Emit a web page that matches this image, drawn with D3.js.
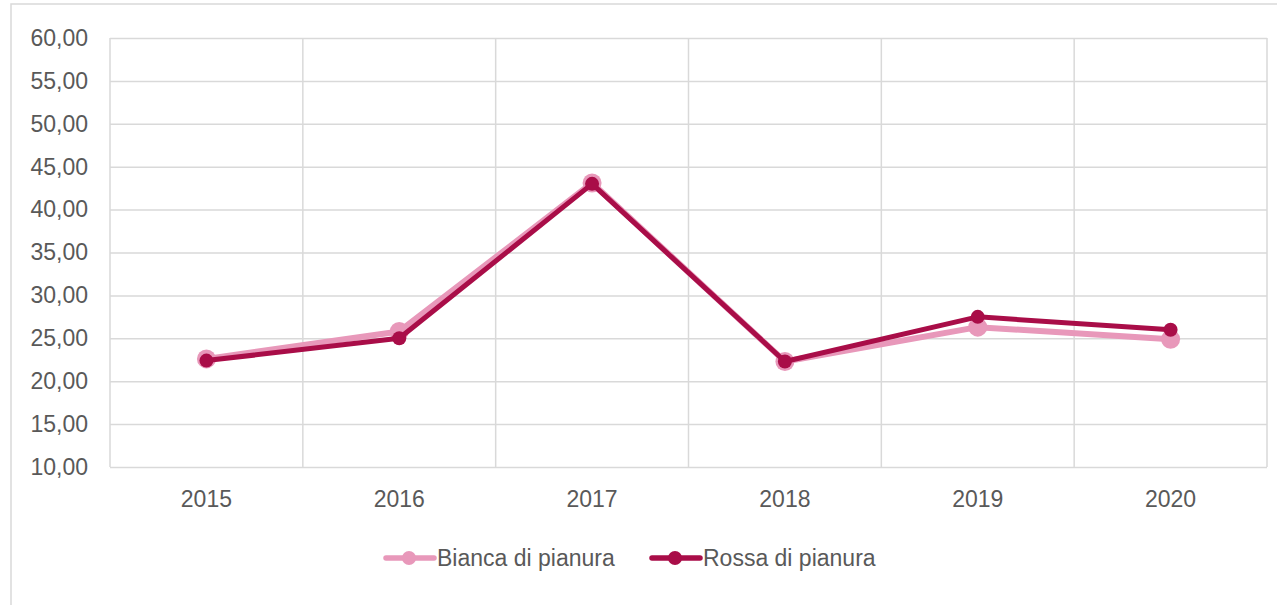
<!DOCTYPE html>
<html>
<head>
<meta charset="utf-8">
<script src="https://cdn.jsdelivr.net/npm/d3@7"></script>
<style>
  body { margin: 0; background: #fff; }
  svg { display: block; font-family: "Century Gothic", "Liberation Sans", sans-serif; }
</style>
</head>
<body>
<div id="chart"></div>
<script>
const years = ['2015', '2016', '2017', '2018', '2019', '2020'];
const bianca = [22.6, 25.8, 43.1, 22.3, 26.3, 24.9];
const rossa = [22.4, 25.0, 43.0, 22.3, 27.5, 26.0];
const yTicks = [10, 15, 20, 25, 30, 35, 40, 45, 50, 55, 60];

const width = 1277, height = 605;
const plot = { left: 110, top: 38, right: 1267, bottom: 467 };
const fontSize = '23px';

const svg = d3.select('#chart').append('svg')
    .attr('width', width)
    .attr('height', height);

// outer frame (only top and left visible)
svg.append('path')
    .attr('d', `M11,${height} L11,4 L${width},4`)
    .attr('fill', 'none')
    .attr('stroke', '#d9d9d9')
    .attr('stroke-width', 1.5);

const x = d3.scaleBand()
    .domain(years)
    .range([plot.left, plot.right]);

const y = d3.scaleLinear()
    .domain([10, 60])
    .range([plot.bottom, plot.top]);

const fmt = v => d3.format('.2f')(v).replace('.', ',');

// horizontal grid + y labels
const yAxis = d3.axisLeft(y)
    .tickValues(yTicks)
    .tickSize(-(plot.right - plot.left))
    .tickPadding(22)
    .tickFormat(fmt);

const gy = svg.append('g')
    .attr('transform', `translate(${plot.left},0)`)
    .call(yAxis);
gy.select('.domain').remove();
gy.selectAll('.tick line').attr('stroke', '#d9d9d9').attr('stroke-width', 1.5);
gy.selectAll('.tick text')
    .attr('fill', '#595959')
    .style('font-size', fontSize)
    .style('font-family', '"Century Gothic", "Liberation Sans", sans-serif');

// vertical grid at category boundaries
const bounds = years.map(d => x(d)).concat([x.range()[1]]);
svg.append('g').selectAll('line')
    .data(bounds)
    .enter()
    .append('line')
    .attr('x1', d => d)
    .attr('x2', d => d)
    .attr('y1', plot.top)
    .attr('y2', plot.bottom)
    .attr('stroke', '#d9d9d9')
    .attr('stroke-width', 1.5);

// x labels
svg.append('g').selectAll('text')
    .data(years)
    .enter()
    .append('text')
    .attr('x', d => x(d) + x.bandwidth() / 2)
    .attr('y', 507)
    .attr('text-anchor', 'middle')
    .attr('fill', '#595959')
    .style('font-size', fontSize)
    .text(d => d);

const series = [
    { name: 'Bianca di pianura', values: bianca, color: '#e898ba', lineWidth: 6, r: 9.5 },
    { name: 'Rossa di pianura', values: rossa, color: '#a90d48', lineWidth: 5, r: 7 }
];

const line = d3.line()
    .x((d, i) => x(years[i]) + x.bandwidth() / 2)
    .y(d => y(d));

series.forEach(s => {
    const g = svg.append('g');
    g.append('path')
        .attr('d', line(s.values))
        .attr('fill', 'none')
        .attr('stroke', s.color)
        .attr('stroke-width', s.lineWidth)
        .attr('stroke-linejoin', 'round');
    g.selectAll('circle')
        .data(s.values)
        .enter()
        .append('circle')
        .attr('cx', (d, i) => x(years[i]) + x.bandwidth() / 2)
        .attr('cy', d => y(d))
        .attr('r', s.r)
        .attr('fill', s.color);
});

// legend
const legendItems = [
    { s: series[0], x0: 386 },
    { s: series[1], x0: 652 }
];
const legendY = 558;
legendItems.forEach(item => {
    const g = svg.append('g').attr('transform', `translate(${item.x0},${legendY})`);
    g.append('line')
        .attr('x1', 0).attr('x2', 48)
        .attr('y1', 0).attr('y2', 0)
        .attr('stroke', item.s.color)
        .attr('stroke-width', 5.5)
        .attr('stroke-linecap', 'round');
    g.append('circle')
        .attr('cx', 23).attr('cy', 0)
        .attr('r', 7)
        .attr('fill', item.s.color);
    g.append('text')
        .attr('x', 51)
        .attr('y', 8)
        .attr('fill', '#595959')
        .style('font-size', fontSize)
        .text(item.s.name);
});
</script>
</body>
</html>
